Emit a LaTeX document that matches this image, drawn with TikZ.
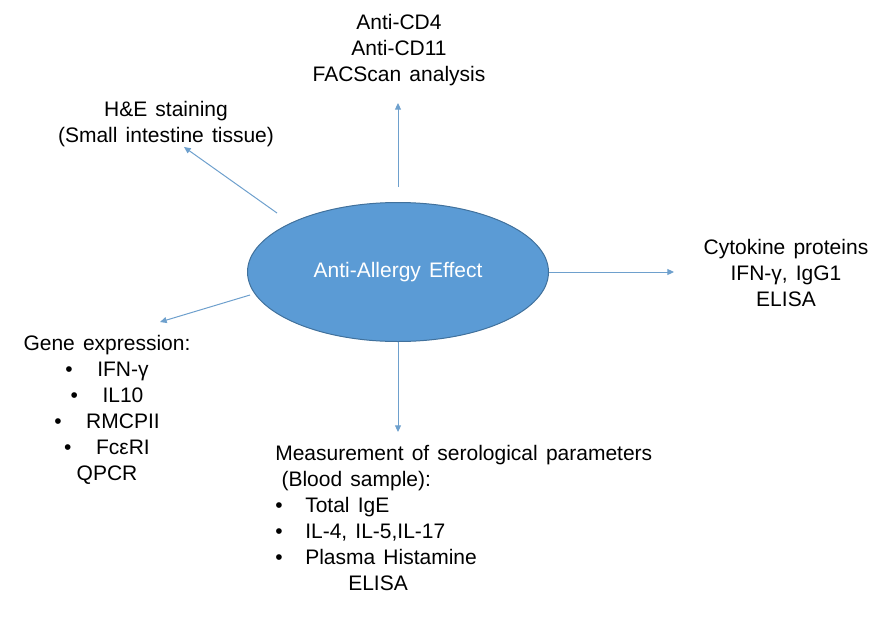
\documentclass[tikz,border=0pt]{standalone}
\usepackage{fontspec}
\setmainfont{Liberation Sans}[WordSpace=1.4]
\usetikzlibrary{arrows.meta,shapes.geometric}
\definecolor{effblue}{RGB}{91,155,213}
\definecolor{effedge}{RGB}{65,113,156}
\definecolor{linkblue}{RGB}{110,160,205}
\newcommand{\bul}[1]{\makebox[#1][l]{\textbullet}}
\begin{document}
\begin{tikzpicture}[x=0.75pt, y=-0.75pt,
    every node/.style={font=\fontsize{15.75pt}{19.5pt}\selectfont},
    txt/.style={inner sep=0pt, align=center},
    link/.style={draw=linkblue, line width=0.75pt, -{Triangle[length=5pt,width=4.5pt]}}]
    \useasboundingbox (0,0) rectangle (886,629);

    \node[ellipse, fill=effblue, draw=effedge, line width=0.75pt,
        minimum width=225.75pt, minimum height=104.25pt, text=white] (eff) at (398,272) {Anti-Allergy Effect};

    \node[txt] (facs) at (399,50) {Anti-CD4\\Anti-CD11\\FACScan analysis};
    \node[txt] (he) at (166,124) {H\&E staining\\(Small intestine tissue)};
    \node[txt] (cyto) at (786,273) {Cytokine proteins\\IFN-γ, IgG1\\ELISA};
    \node[txt] (gene) at (107,410) {Gene expression:\\
        \bul{24pt}IFN-γ\\
        \bul{24pt}IL10\\
        \bul{24pt}RMCPII\\
        \bul{24pt}FcεRI\\
        QPCR};
    \node[txt, align=left, anchor=north west] (meas) at (275,445) {Measurement of serological parameters\\
        \hspace*{0.3em}(Blood sample):\\
        \bul{22.5pt}Total IgE\\
        \bul{22.5pt}IL-4, IL-5,IL-17\\
        \bul{22.5pt}Plasma Histamine\\
        \hspace*{54.75pt}ELISA};

    \coordinate (cdTip) at (398,103);
    \coordinate (heTail) at (277,213);
    \coordinate (heTip) at (184,147);
    \coordinate (cytoTip) at (674,272);
    \coordinate (geneTail) at (250,295);
    \coordinate (geneTip) at (160,322);
    \coordinate (measTip) at (398,432);

    \draw[link, shorten <=11.25pt] (eff.north) -- (cdTip);
    \draw[link] (heTail) -- (heTip);
    \draw[link] (eff.east) -- (cytoTip);
    \draw[link] (geneTail) -- (geneTip);
    \draw[link] (eff.south) -- (measTip);
\end{tikzpicture}
\end{document}
